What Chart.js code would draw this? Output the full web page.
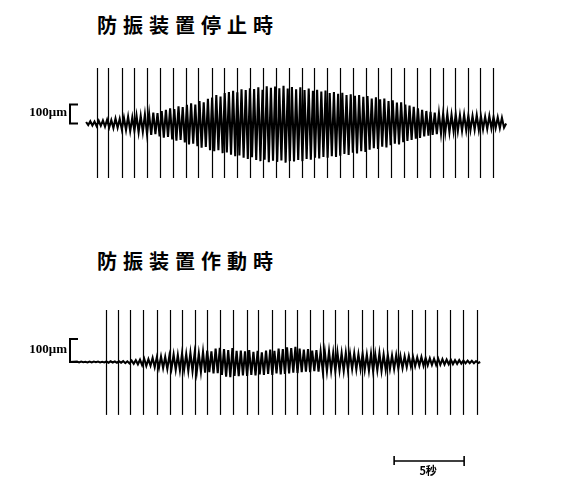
<!DOCTYPE html>
<html>
<head>
<meta charset="utf-8">
<script src="https://cdn.jsdelivr.net/npm/chart.js@4/dist/chart.umd.min.js"></script>
<style>
  html, body { margin: 0; padding: 0; background: #fff; }
  #page { position: relative; width: 576px; height: 498px; overflow: hidden; background: #fff; }
  .title { position: absolute; left: 97px; font-family: "Noto Sans CJK JP", sans-serif; font-weight: 700;
           font-size: 20px; line-height: 24px; letter-spacing: 6px; color: #000; white-space: nowrap; }
  canvas { position: absolute; left: 0; }
</style>
</head>
<body>
<div id="page">
  <div class="title" style="top:13px">防振装置停止時</div>
  <canvas id="off" width="576" height="110" style="top:68px"></canvas>
  <div class="title" style="top:249px">防振装置作動時</div>
  <canvas id="on" width="576" height="175" style="top:305px"></canvas>
</div>
<script>
// Oscillation period of the recorded sway (s)
const periodSec = 0.3;

// Damper stopped: positive / negative peak of each cycle (μm)
const offStart = 1.15;
const offUpper = [
  8, 12, 10, 14, 16,   20, 18, 26, 24, 30,
  36, 32, 42, 40, 48,  52, 58, 55, 66, 72,
  80, 76, 90, 86, 98,  106, 100, 118, 112, 130,
  136, 150, 142, 160, 166,  172, 164, 180, 176, 186,
  182, 190, 178, 196, 188,  194, 186, 198, 184, 192,
  180, 190, 176, 184, 172,  178, 168, 174, 160, 166,
  156, 162, 150, 154, 146,  150, 140, 144, 132, 138,
  128, 132, 118, 122, 110,  112, 100, 94, 88, 80,
  72, 66, 62, 58, 54,  52, 50, 46, 48, 44,
  46, 42, 40, 44, 38,  36, 40, 34, 32, 30
];
const offLower = [
  -8, -10, -14, -12, -16,  -20, -24, -22, -30, -34,
  -40, -38, -46, -44, -54,  -60, -56, -68, -74, -70,
  -84, -90, -86, -100, -110,  -106, -120, -128, -124, -140,
  -146, -140, -156, -152, -164,  -172, -168, -180, -186, -178,
  -192, -198, -190, -204, -196,  -202, -194, -206, -198, -200,
  -192, -198, -186, -190, -180,  -184, -176, -180, -172, -176,
  -170, -160, -166, -154, -158,  -146, -150, -138, -130, -134,
  -122, -126, -114, -106, -110,  -98, -92, -86, -80, -76,
  -68, -64, -60, -56, -52,  -48, -46, -42, -40, -38,
  -36, -34, -32, -34, -30,  -28, -26, -24, -24, -22
];
// Time marks on the stopped record (s)
const offMarks = [1.93, 2.71, 3.71, 4.57, 5.5, 6.43, 7.36, 8.29, 9.14, 10.14, 11.0, 11.93,
  12.86, 13.79, 14.71, 15.64, 16.57, 17.43, 18.36, 19.29, 20.21, 21.14, 22.0, 22.93,
  23.86, 24.79, 25.71, 26.64, 27.5, 28.43, 29.29, 30.21];

// Damper working: positive / negative peak of each cycle (μm)
const onStart = 0.5;
const onUpper = [
  2, 2, 1, 2, 2,  2, 1, 2, 3, 2,
  3, 4, 3, 6, 8,  10, 14, 12, 18, 20,
  24, 22, 28, 32, 30,  36, 34, 40, 38, 36,
  44, 50, 46, 58, 62,  56, 52, 60, 48, 50,
  46, 52, 44, 48, 42,  50, 54, 48, 58, 56,
  64, 60, 66, 58, 54,  56, 50, 52, 46, 44,
  46, 40, 42, 38, 40,  36, 38, 34, 36, 32,
  36, 34, 38, 32, 30,  28, 30, 26, 24, 26,
  22, 20, 22, 18, 16,  14, 14, 12, 10, 10,
  8, 8, 6, 6, 5, 4
];
const onLower = [
  -2, -1, -2, -2, -1,  -2, -2, -3, -2, -3,
  -3, -5, -6, -8, -10,  -14, -17, -16, -22, -26,
  -26, -30, -28, -34, -36,  -34, -38, -40, -44, -42,
  -46, -44, -50, -48, -56,  -64, -66, -60, -62, -58,
  -60, -56, -58, -54, -56,  -52, -56, -50, -54, -52,
  -50, -46, -48, -44, -42,  -44, -40, -42, -38, -40,
  -38, -40, -36, -38, -34,  -30, -32, -30, -34, -38,
  -40, -36, -38, -34, -30,  -30, -28, -26, -22, -20,
  -18, -16, -16, -14, -13,  -13, -12, -11, -10, -9,
  -8, -7, -6, -5, -5, -4
];
// Time marks on the working record (s)
const onMarks = [2.57, 3.43, 4.29, 5.21, 6.21, 7.14, 8.0, 8.93, 9.79, 10.71, 11.64, 12.64,
  13.43, 14.43, 15.36, 16.21, 17.14, 18.07, 18.93, 19.86, 20.86, 21.64, 22.64, 23.43,
  24.43, 25.36, 26.21, 27.14, 28.07, 29.07];

// Scale references
const ampRef = 100;        // μm bracket
const ampLabel = "100μm";
const timeRef = 5;         // s bar
const timeLabel = "5秒";
const timeBarStart = 23.15;

// Build the trace: each cycle goes up to its positive peak, then down to its negative peak
function trace(start, up, lo) {
  const pts = [];
  for (let i = 0; i < up.length; i++) {
    pts.push({ x: start + i * periodSec, y: up[i] });
    pts.push({ x: start + (i + 0.5) * periodSec, y: lo[i] });
  }
  pts.push({ x: start + up.length * periodSec, y: 0 });
  return pts;
}

const ink = "#000";

function recordPlugin(marks, markTop, markBottom, withTimeBar) {
  return {
    id: "record",
    beforeDatasetsDraw(chart) {
      const { ctx, scales: { x, y } } = chart;
      ctx.save();
      ctx.strokeStyle = ink;
      ctx.lineWidth = 1.2;
      const yt = y.getPixelForValue(markTop), yb = y.getPixelForValue(markBottom);
      marks.forEach(t => {
        const px = Math.round(x.getPixelForValue(t)) + 0.5;
        ctx.beginPath();
        ctx.moveTo(px, yt);
        ctx.lineTo(px, yb);
        ctx.stroke();
      });
      ctx.restore();
    },
    afterDatasetsDraw(chart) {
      const { ctx, scales: { x, y } } = chart;
      ctx.save();
      // amplitude bracket
      const y0 = y.getPixelForValue(0), y1 = y.getPixelForValue(ampRef);
      const bx = 70;
      ctx.strokeStyle = ink;
      ctx.lineWidth = 2;
      ctx.beginPath();
      ctx.moveTo(bx + 8, y1);
      ctx.lineTo(bx, y1);
      ctx.lineTo(bx, y0);
      ctx.lineTo(bx + 8, y0);
      ctx.stroke();
      ctx.fillStyle = ink;
      ctx.font = "bold 13px 'Liberation Serif', serif";
      ctx.textAlign = "right";
      ctx.textBaseline = "middle";
      ctx.fillText(ampLabel, bx - 3, (y0 + y1) / 2 - 1);
      if (withTimeBar) {
        const xa = x.getPixelForValue(timeBarStart), xb = x.getPixelForValue(timeBarStart + timeRef);
        const yy = chart.chartArea.bottom - 19;
        ctx.lineWidth = 1.6;
        ctx.beginPath();
        ctx.moveTo(xa, yy); ctx.lineTo(xb, yy);
        ctx.moveTo(xa, yy - 5); ctx.lineTo(xa, yy + 4);
        ctx.moveTo(xb, yy - 5); ctx.lineTo(xb, yy + 5);
        ctx.stroke();
        ctx.font = "bold 11px 'Noto Sans CJK JP', sans-serif";
        ctx.textAlign = "center";
        ctx.textBaseline = "middle";
        ctx.fillText(timeLabel, (xa + xb) / 2 - 1, yy + 10);
      }
      ctx.restore();
    }
  };
}

function makeChart(id, data, yMin, yMax, plugin) {
  return new Chart(document.getElementById(id), {
    type: "line",
    data: {
      datasets: [{
        data: data,
        borderColor: ink,
        borderWidth: 2.1,
        pointRadius: 0,
        tension: 0,
        fill: false
      }]
    },
    options: {
      responsive: false,
      animation: false,
      devicePixelRatio: 1,
      layout: { padding: 0 },
      plugins: { legend: { display: false }, tooltip: { enabled: false }, title: { display: false } },
      scales: {
        x: { type: "linear", display: false, min: -5, max: 36.14 },
        y: { display: false, min: yMin, max: yMax }
      }
    },
    plugins: [plugin]
  });
}

makeChart("off", trace(offStart, offUpper, offLower), -286.8, 292.1,
  recordPlugin(offMarks, 292, -287, false));
makeChart("on", [{ x: onStart - 0.5, y: 0 }].concat(trace(onStart, onUpper, onLower)), -513, 247.8,
  recordPlugin(onMarks, 226, -230, true));
</script>
</body>
</html>
